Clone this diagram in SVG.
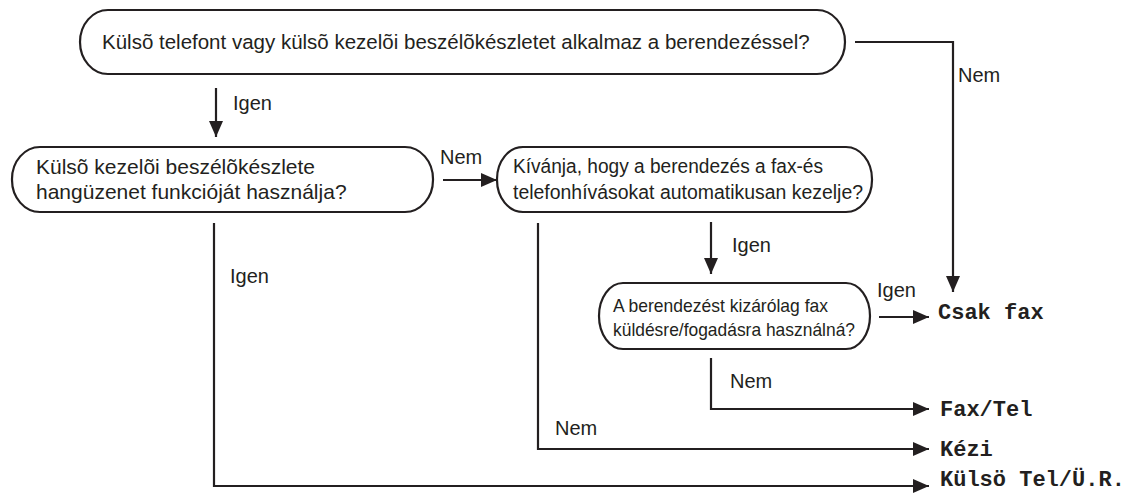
<svg xmlns="http://www.w3.org/2000/svg" width="1132" height="493" viewBox="0 0 1132 493">
<defs>
<style>
.node{fill:#fff;stroke:#231f20;stroke-width:2.2}
.t{font-family:"Liberation Sans",Arial,sans-serif;fill:#231f20}
.lbl{font-family:"Liberation Sans",Arial,sans-serif;font-size:20px;fill:#231f20}
.m{font-family:"Liberation Mono","Courier New",monospace;font-weight:bold;font-size:22px;fill:#231f20}
.c{fill:none;stroke:#231f20;stroke-width:2.2}
</style>
<marker id="ah" markerUnits="userSpaceOnUse" markerWidth="16" markerHeight="14" refX="16" refY="7" orient="auto">
<path d="M0,0 L16,7 L0,14 Z" fill="#231f20"/>
</marker>
</defs>
<rect width="1132" height="493" fill="#fff"/>
<g id="connectors">
<path class="c" d="M855,42 H953 V292" marker-end="url(#ah)"/>
<path class="c" d="M216,88 V137" marker-end="url(#ah)"/>
<path class="c" d="M443,180 H497" marker-end="url(#ah)"/>
<path class="c" d="M711,222 V274" marker-end="url(#ah)"/>
<path class="c" d="M879,317 H929" marker-end="url(#ah)"/>
<path class="c" d="M711,358 V409 H929" marker-end="url(#ah)"/>
<path class="c" d="M538,223 V449 H929" marker-end="url(#ah)"/>
<path class="c" d="M214,223 V486 H929" marker-end="url(#ah)"/>
<text class="lbl" x="958" y="82">Nem</text>
<text class="lbl" x="233" y="110">Igen</text>
<text class="lbl" x="440" y="164">Nem</text>
<text class="lbl" x="230" y="283">Igen</text>
<text class="lbl" x="732" y="252">Igen</text>
<text class="lbl" x="877" y="297">Igen</text>
<text class="lbl" x="730" y="388">Nem</text>
<text class="lbl" x="555" y="435">Nem</text>
</g>
<g id="n1">
<rect class="node" x="80" y="10" width="765" height="64" rx="28" ry="32"/>
<text class="t" x="102" y="49" font-size="20.5">Külsõ telefont vagy külsõ kezelõi beszélõkészletet alkalmaz a berendezéssel?</text>
</g>
<g id="n2">
<rect class="node" x="12" y="147" width="421" height="65" rx="28" ry="32"/>
<text class="t" x="36" y="174" font-size="21">Külsõ kezelõi beszélõkészlete</text>
<text class="t" x="36" y="199" font-size="21">hangüzenet funkcióját használja?</text>
</g>
<g id="n3">
<rect class="node" x="497" y="147" width="375" height="65" rx="26" ry="32"/>
<text class="t" x="513" y="173" font-size="20" textLength="310" lengthAdjust="spacingAndGlyphs">Kívánja, hogy a berendezés a fax-és</text>
<text class="t" x="513" y="199" font-size="20" textLength="350" lengthAdjust="spacingAndGlyphs">telefonhívásokat automatikusan kezelje?</text>
</g>
<g id="n4">
<rect class="node" x="599" y="283" width="271" height="66" rx="24" ry="33"/>
<text class="t" x="613" y="312" font-size="19" textLength="215" lengthAdjust="spacingAndGlyphs">A berendezést kizárólag fax</text>
<text class="t" x="613" y="336" font-size="19" textLength="242" lengthAdjust="spacingAndGlyphs">küldésre/fogadásra használná?</text>
</g>
<g id="o1"><text class="m" x="938" y="319">Csak fax</text></g>
<g id="o2"><text class="m" x="940" y="416">Fax/Tel</text></g>
<g id="o3"><text class="m" x="940" y="456">Kézi</text></g>
<g id="o4"><text class="m" x="940" y="486" font-size="21">Külsö Tel/Ü.R.</text></g>
</svg>
